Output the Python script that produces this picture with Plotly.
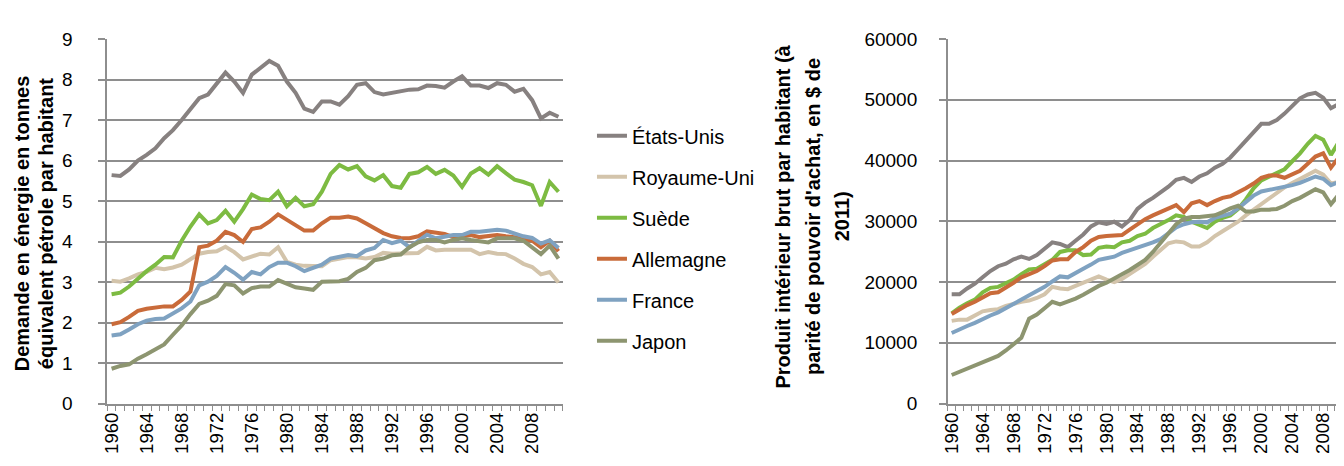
import plotly.graph_objects as go

years = list(range(1960, 2012))
countries = ["États-Unis", "Royaume-Uni", "Suède", "Allemagne", "France", "Japon"]
colors = ["#878180", "#D3C4AB", "#7DBB42", "#C96B3A", "#7FA2C1", "#8D9570"]

energy_us = [5.64, 5.62, 5.78, 6.00, 6.14, 6.30, 6.55, 6.75, 7.00, 7.28, 7.54, 7.63, 7.91, 8.17, 7.95, 7.67,
             8.12, 8.30, 8.46, 8.34, 7.95, 7.67, 7.28, 7.20, 7.46, 7.46, 7.38, 7.59, 7.87, 7.91, 7.69, 7.63,
             7.67, 7.71, 7.75, 7.76, 7.85, 7.84, 7.80, 7.95, 8.08, 7.85, 7.85, 7.79, 7.91, 7.87, 7.70, 7.77,
             7.49, 7.04, 7.18, 7.08]
energy_uk = [3.03, 3.01, 3.09, 3.19, 3.25, 3.35, 3.32, 3.36, 3.43, 3.58, 3.70, 3.74, 3.76, 3.87, 3.74, 3.56,
             3.62, 3.70, 3.68, 3.86, 3.50, 3.43, 3.40, 3.39, 3.39, 3.54, 3.58, 3.62, 3.61, 3.58, 3.62, 3.72,
             3.70, 3.70, 3.72, 3.72, 3.87, 3.78, 3.80, 3.80, 3.80, 3.80, 3.69, 3.74, 3.70, 3.69, 3.58, 3.45,
             3.37, 3.19, 3.25, 2.99]
energy_se = [2.70, 2.74, 2.89, 3.09, 3.27, 3.43, 3.62, 3.61, 4.02, 4.37, 4.67, 4.45, 4.53, 4.76, 4.49, 4.80,
             5.16, 5.05, 5.02, 5.23, 4.87, 5.08, 4.87, 4.92, 5.23, 5.67, 5.89, 5.78, 5.86, 5.61, 5.51, 5.64,
             5.37, 5.33, 5.67, 5.71, 5.84, 5.67, 5.77, 5.63, 5.35, 5.68, 5.81, 5.65, 5.86, 5.69, 5.53, 5.47,
             5.39, 4.88, 5.47, 5.23]
energy_de = [1.96, 2.01, 2.14, 2.29, 2.34, 2.38, 2.40, 2.40, 2.56, 2.77, 3.86, 3.90, 4.02, 4.24, 4.16, 3.99,
             4.31, 4.35, 4.49, 4.67, 4.54, 4.41, 4.27, 4.27, 4.45, 4.59, 4.59, 4.62, 4.57, 4.45, 4.33, 4.21,
             4.13, 4.09, 4.08, 4.13, 4.25, 4.21, 4.19, 4.11, 4.13, 4.16, 4.11, 4.13, 4.16, 4.13, 4.11, 4.08,
             4.02, 3.86, 4.02, 3.76]
energy_fr = [1.68, 1.71, 1.83, 1.96, 2.05, 2.09, 2.10, 2.22, 2.35, 2.52, 2.92, 3.01, 3.15, 3.37, 3.23, 3.06,
             3.25, 3.19, 3.37, 3.48, 3.48, 3.39, 3.27, 3.35, 3.43, 3.58, 3.62, 3.67, 3.64, 3.78, 3.84, 4.04,
             3.96, 4.02, 3.86, 4.02, 4.17, 4.08, 4.13, 4.16, 4.16, 4.24, 4.24, 4.27, 4.29, 4.27, 4.19, 4.13,
             4.09, 3.95, 4.03, 3.84]
energy_jp = [0.86, 0.93, 0.97, 1.11, 1.22, 1.34, 1.46, 1.70, 1.93, 2.21, 2.46, 2.54, 2.66, 2.95, 2.92, 2.72,
             2.85, 2.89, 2.89, 3.05, 2.95, 2.87, 2.84, 2.81, 3.01, 3.01, 3.02, 3.08, 3.25, 3.35, 3.54, 3.58,
             3.66, 3.68, 3.86, 3.98, 4.04, 4.04, 3.98, 4.04, 4.08, 4.04, 4.02, 3.98, 4.08, 4.08, 4.08, 4.02,
             3.86, 3.69, 3.90, 3.58]

gdp_us = [18000, 18000, 18950, 19730, 20780, 21820, 22610, 23030, 23760, 24180, 23810, 24440, 25490, 26530,
          26270, 25750, 26800, 27840, 29150, 29830, 29570, 29930, 29150, 30200, 32030, 33080, 33860, 34750,
          35690, 36840, 37150, 36480, 37370, 37890, 38830, 39460, 40510, 41870, 43280, 44690, 46050, 46050,
          46680, 47730, 49030, 50240, 50870, 51130, 50340, 48620, 49300, 49820]
gdp_uk = [13610, 13820, 13820, 14500, 15180, 15390, 15540, 16070, 16430, 16750, 16960, 17380, 18000, 19210,
          18950, 18840, 19370, 19890, 20410, 20930, 20410, 19990, 20520, 21300, 22080, 23000, 24180, 25330,
          26380, 26690, 26530, 25860, 25860, 26530, 27580, 28370, 29150, 29930, 30980, 31920, 32810, 33600,
          34640, 35590, 36310, 37000, 37680, 38310, 37680, 36220, 36480, 36740]
gdp_se = [14860, 15800, 16490, 17110, 18320, 19050, 19210, 19730, 20410, 21300, 22080, 22190, 22870, 23660,
          24960, 25220, 25220, 24440, 24540, 25640, 25850, 25750, 26530, 26800, 27580, 27950, 28890, 29520,
          30200, 30980, 30720, 29930, 29410, 28890, 29930, 30560, 30980, 32030, 33600, 35430, 36740, 37370,
          38050, 38570, 39880, 41190, 42760, 44060, 43440, 40930, 43020, 43800]
gdp_de = [14760, 15540, 16220, 16750, 17480, 18160, 18320, 19050, 19890, 20780, 21300, 21820, 22610, 23550,
          23760, 23760, 24960, 25750, 26800, 27420, 27580, 27700, 27740, 28630, 29520, 30350, 30980, 31510,
          32130, 32660, 31510, 32970, 33330, 32660, 33330, 33860, 34120, 34750, 35430, 36220, 37160, 37520,
          37520, 37160, 37680, 38310, 39460, 40660, 41190, 38830, 40510, 42080]
gdp_fr = [11620, 12250, 12770, 13290, 13970, 14500, 15020, 15700, 16330, 17110, 17800, 18420, 19210, 20100,
          20930, 20780, 21560, 22190, 22870, 23660, 23920, 24180, 24810, 25220, 25590, 26010, 26530, 27060,
          28100, 28990, 29520, 29830, 29930, 29830, 30560, 30880, 31240, 32130, 33180, 34230, 34910, 35170,
          35270, 35590, 35950, 36310, 36840, 37370, 37000, 35950, 36480, 37150]
gdp_jp = [4710, 5230, 5600, 6120, 6800, 7170, 7850, 8740, 9790, 10830, 13970, 14650, 15700, 16750,
          16330, 16750, 17270, 17900, 18680, 19370, 19890, 20520, 21300, 21980, 22740, 23660, 24960, 26530,
          28100, 29520, 30460, 30720, 30720, 30820, 30980, 31510, 32130, 32550, 31610, 31610, 31920, 31920,
          32030, 32550, 33330, 33860, 34540, 35270, 34750, 32810, 34380, 34230]

tick_years = list(range(1960, 2012, 4))

left_title = ["Demande en énergie en tonnes", "équivalent pétrole par habitant"]
right_title = ["Produit intérieur brut par habitant (à", "parité de pouvoir d'achat, en $ de", "2011)"]

energy = [energy_us, energy_uk, energy_se, energy_de, energy_fr, energy_jp]
gdp = [gdp_us, gdp_uk, gdp_se, gdp_de, gdp_fr, gdp_jp]

W, H = 1344, 466
FONT = "Liberation Sans, Arial, sans-serif"
GRID = "#8e8e8e"

fig = go.Figure()
for name, col, e in zip(countries, colors, energy):
    fig.add_trace(go.Scatter(x=years, y=e, name=name, mode="lines", line=dict(color=col, width=4),
                             xaxis="x", yaxis="y", legendgroup=name))
for name, col, g in zip(countries, colors, gdp):
    fig.add_trace(go.Scatter(x=years, y=g, name=name, mode="lines", line=dict(color=col, width=4),
                             xaxis="x2", yaxis="y2", legendgroup=name, showlegend=False))

def px_x(p):
    return p / W

def px_y(p):
    return 1 - p / H

ydom = [px_y(403.8), px_y(22)]

xcommon = dict(range=[1959.5, 2011.5], tickmode="array", tickvals=tick_years,
               ticktext=[str(y) for y in tick_years], tickangle=-90, ticks="",
               showgrid=False, showline=True, linecolor=GRID, linewidth=1.5,
               tickfont=dict(family=FONT, size=18.5, color="#000"), zeroline=False,
               minor=dict(tickmode="linear", tick0=1959.5, dtick=1, ticks="outside", ticklen=6,
                          tickcolor=GRID, tickwidth=1.2, showgrid=False),
               fixedrange=True)
ycommon = dict(showgrid=True, gridcolor=GRID, gridwidth=1.5, showline=True, linecolor=GRID,
               linewidth=1.5, ticks="outside", ticklen=7, tickcolor=GRID, tickwidth=1.5,
               tickfont=dict(family=FONT, size=19, color="#000"), zeroline=False,
               tickformat="d")

fig.update_layout(
    width=W, height=H, margin=dict(l=0, r=0, t=0, b=0),
    paper_bgcolor="white", plot_bgcolor="white",
    xaxis=dict(domain=[px_x(92.7), px_x(550.7)], anchor="y", **xcommon),
    yaxis=dict(domain=ydom, range=[0, 9], dtick=1, anchor="x", ticklabelstandoff=22, **ycommon),
    xaxis2=dict(domain=[px_x(937.7), px_x(1342.3)], anchor="y2", **xcommon),
    yaxis2=dict(domain=ydom, range=[0, 60000], dtick=10000, anchor="x2", ticklabelstandoff=18, **ycommon),
    legend=dict(x=px_x(580), y=px_y(103), xanchor="left", yanchor="top",
                font=dict(family=FONT, size=20, color="#000"), tracegroupgap=12,
                bgcolor="rgba(0,0,0,0)"),
    showlegend=True,
)

for i, line in enumerate(left_title):
    fig.add_annotation(text="<b>" + line + "</b>", x=px_x(7 + 24 * i), y=px_y(215),
                       xref="paper", yref="paper", textangle=-90, showarrow=False,
                       font=dict(family=FONT, size=20, color="#000"), xanchor="center", yanchor="middle")
for i, line in enumerate(right_title):
    fig.add_annotation(text="<b>" + line + "</b>", x=px_x(772 + 29.5 * i), y=px_y(208),
                       xref="paper", yref="paper", textangle=-90, showarrow=False,
                       font=dict(family=FONT, size=20, color="#000"), xanchor="center", yanchor="middle")

fig.write_html("out.html")
